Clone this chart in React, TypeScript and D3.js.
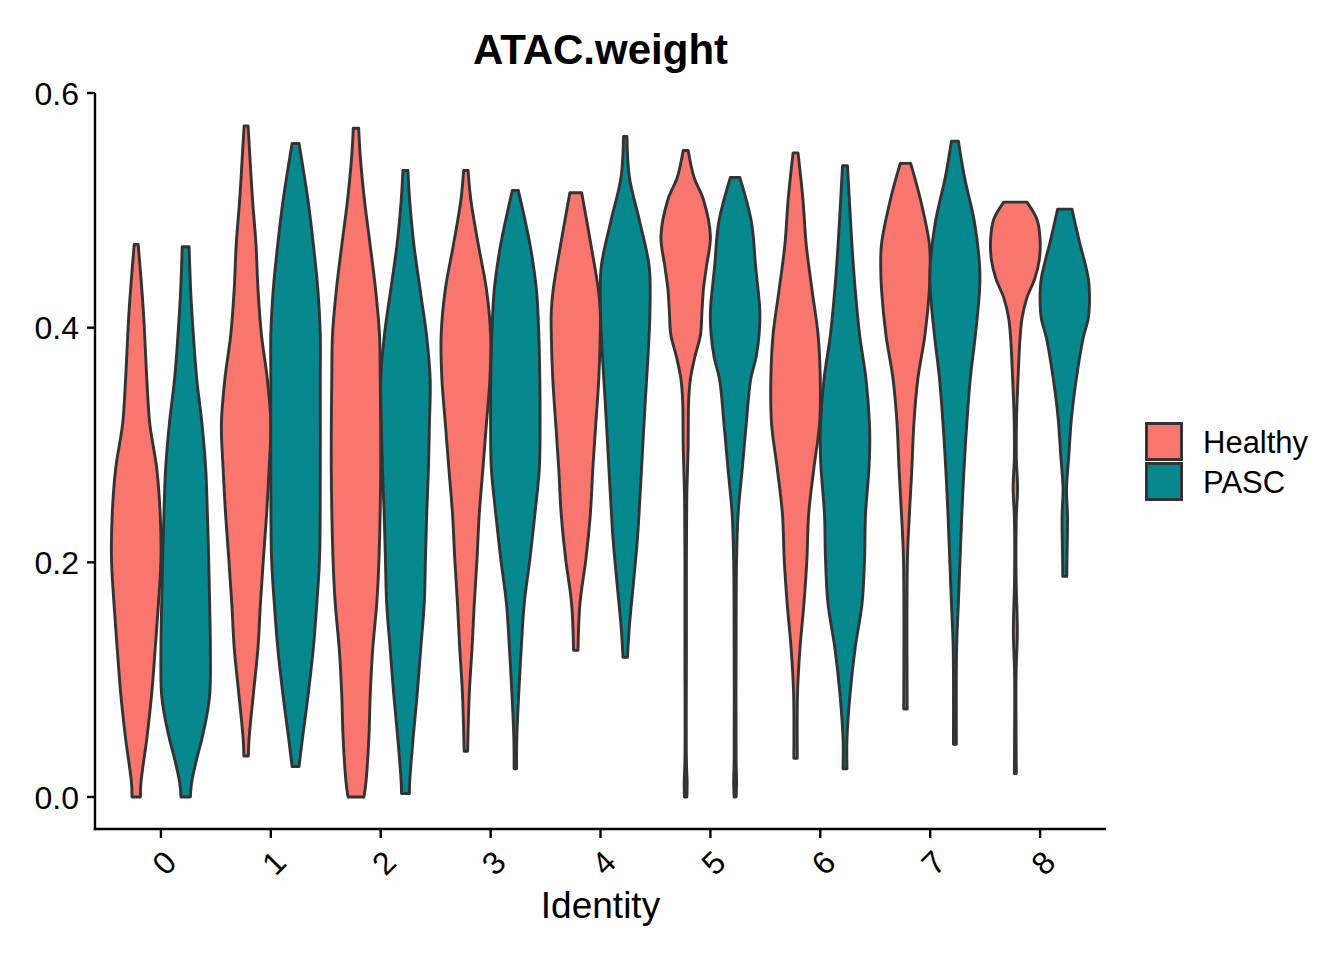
import React, { useEffect, useRef } from "react";
import * as d3 from "d3";

type Profile = [number, number][]; // [value, relative width]

const identities = ["0", "1", "2", "3", "4", "5", "6", "7", "8"];
const groups = ["Healthy", "PASC"];
const groupColors = ["#F8766D", "#07888F"];
const yTicks = [0.0, 0.2, 0.4, 0.6];

// density outlines, bottom to top
const healthyProfiles: Profile[] = [
    [[0.000, 0.17], [0.012, 0.19], [0.050, 0.43], [0.089, 0.63], [0.127, 0.77], [0.165, 0.90], [0.203, 1.00], [0.241, 0.97], [0.280, 0.83], [0.318, 0.55], [0.356, 0.43], [0.414, 0.29], [0.471, 0.08]],
    [[0.035, 0.09], [0.050, 0.12], [0.089, 0.30], [0.127, 0.48], [0.165, 0.58], [0.203, 0.70], [0.241, 0.83], [0.280, 0.93], [0.318, 1.00], [0.356, 0.86], [0.394, 0.62], [0.433, 0.48], [0.471, 0.40], [0.509, 0.26], [0.547, 0.15], [0.572, 0.08]],
    [[0.000, 0.32], [0.012, 0.40], [0.050, 0.52], [0.089, 0.58], [0.127, 0.68], [0.165, 0.84], [0.203, 0.93], [0.280, 1.00], [0.356, 0.98], [0.394, 0.95], [0.433, 0.79], [0.471, 0.57], [0.509, 0.34], [0.547, 0.17], [0.570, 0.11]],
    [[0.039, 0.07], [0.089, 0.14], [0.127, 0.25], [0.165, 0.34], [0.203, 0.45], [0.241, 0.54], [0.280, 0.69], [0.318, 0.83], [0.356, 0.97], [0.394, 1.00], [0.433, 0.83], [0.471, 0.50], [0.509, 0.20], [0.534, 0.09]],
    [[0.125, 0.09], [0.165, 0.17], [0.203, 0.41], [0.241, 0.59], [0.280, 0.69], [0.318, 0.81], [0.356, 0.93], [0.394, 0.99], [0.414, 0.99], [0.433, 0.91], [0.471, 0.61], [0.515, 0.24]],
    [[0.000, 0.05], [0.012, 0.06], [0.031, 0.03], [0.127, 0.03], [0.203, 0.03], [0.241, 0.04], [0.261, 0.05], [0.299, 0.10], [0.337, 0.12], [0.356, 0.19], [0.375, 0.37], [0.394, 0.60], [0.414, 0.66], [0.433, 0.72], [0.452, 0.84], [0.478, 1.00], [0.509, 0.72], [0.528, 0.34], [0.551, 0.10]],
    [[0.033, 0.07], [0.089, 0.08], [0.127, 0.18], [0.165, 0.34], [0.203, 0.46], [0.241, 0.53], [0.280, 0.74], [0.318, 0.97], [0.356, 1.00], [0.394, 0.91], [0.433, 0.66], [0.471, 0.43], [0.509, 0.30], [0.549, 0.10]],
    [[0.075, 0.07], [0.203, 0.08], [0.241, 0.16], [0.280, 0.26], [0.318, 0.34], [0.356, 0.50], [0.394, 0.79], [0.433, 0.97], [0.452, 1.00], [0.471, 0.97], [0.509, 0.61], [0.540, 0.21]],
    [[0.020, 0.04], [0.053, 0.03], [0.104, 0.03], [0.141, 0.08], [0.188, 0.03], [0.239, 0.04], [0.263, 0.09], [0.290, 0.04], [0.323, 0.05], [0.357, 0.11], [0.391, 0.19], [0.408, 0.27], [0.425, 0.46], [0.442, 0.79], [0.458, 0.97], [0.475, 1.00], [0.492, 0.88], [0.507, 0.47]],
];

const pascProfiles: Profile[] = [
    [[0.000, 0.19], [0.012, 0.24], [0.031, 0.43], [0.050, 0.66], [0.070, 0.86], [0.089, 0.98], [0.127, 1.00], [0.165, 0.97], [0.203, 0.93], [0.241, 0.88], [0.280, 0.81], [0.318, 0.66], [0.356, 0.45], [0.394, 0.31], [0.433, 0.20], [0.469, 0.14]],
    [[0.026, 0.14], [0.050, 0.28], [0.089, 0.52], [0.127, 0.72], [0.165, 0.86], [0.203, 0.97], [0.280, 1.00], [0.356, 1.00], [0.394, 1.00], [0.433, 0.90], [0.471, 0.72], [0.509, 0.50], [0.557, 0.14]],
    [[0.003, 0.16], [0.012, 0.17], [0.050, 0.31], [0.089, 0.48], [0.127, 0.62], [0.165, 0.76], [0.203, 0.81], [0.241, 0.86], [0.280, 0.93], [0.318, 0.97], [0.356, 1.00], [0.394, 0.85], [0.433, 0.59], [0.471, 0.34], [0.509, 0.17], [0.534, 0.10]],
    [[0.024, 0.05], [0.050, 0.06], [0.089, 0.14], [0.127, 0.24], [0.165, 0.36], [0.203, 0.59], [0.241, 0.79], [0.280, 0.97], [0.318, 1.00], [0.356, 0.99], [0.394, 0.95], [0.433, 0.85], [0.471, 0.59], [0.517, 0.12]],
    [[0.119, 0.09], [0.146, 0.17], [0.184, 0.34], [0.222, 0.50], [0.261, 0.61], [0.299, 0.71], [0.337, 0.81], [0.375, 0.92], [0.414, 1.00], [0.452, 0.97], [0.490, 0.59], [0.528, 0.17], [0.563, 0.07]],
    [[0.000, 0.04], [0.012, 0.06], [0.031, 0.04], [0.127, 0.04], [0.203, 0.06], [0.241, 0.12], [0.280, 0.29], [0.318, 0.45], [0.356, 0.63], [0.375, 0.85], [0.394, 0.97], [0.414, 1.00], [0.452, 0.83], [0.490, 0.66], [0.528, 0.19]],
    [[0.024, 0.08], [0.050, 0.08], [0.089, 0.21], [0.127, 0.41], [0.165, 0.69], [0.203, 0.79], [0.241, 0.83], [0.280, 0.97], [0.299, 1.00], [0.318, 0.99], [0.356, 0.85], [0.394, 0.59], [0.433, 0.41], [0.471, 0.28], [0.538, 0.10]],
    [[0.045, 0.06], [0.127, 0.07], [0.165, 0.14], [0.203, 0.21], [0.241, 0.28], [0.280, 0.37], [0.318, 0.48], [0.356, 0.62], [0.394, 0.83], [0.433, 1.00], [0.452, 1.00], [0.490, 0.79], [0.528, 0.39], [0.559, 0.14]],
    [[0.188, 0.08], [0.205, 0.09], [0.239, 0.11], [0.263, 0.07], [0.290, 0.16], [0.323, 0.27], [0.357, 0.47], [0.391, 0.74], [0.408, 0.95], [0.425, 1.00], [0.442, 0.95], [0.475, 0.57], [0.501, 0.29]],
];

const FONT = "'Liberation Sans', Arial, Helvetica, sans-serif";

const App: React.FC = () => {
    const svgRef = useRef<SVGSVGElement | null>(null);

    useEffect(() => {
        const width = 1344;
        const height = 960;
        const panel = { left: 95, right: 1106, top: 93, bottom: 829 };

        const svg = d3.select(svgRef.current);
        svg.selectAll("*").remove();
        svg.attr("width", width).attr("height", height);

        const unit = (panel.right - panel.left) / (identities.length - 1 + 1.2);

        const x = d3
            .scalePoint<string>()
            .domain(identities)
            .range([panel.left + 0.6 * unit, panel.right - 0.6 * unit]);

        const dodge = d3
            .scaleBand<string>()
            .domain(groups)
            .range([-0.45 * unit, 0.45 * unit]);

        const halfW = d3.scaleLinear().domain([0, 1]).range([0, dodge.bandwidth() / 2]);

        const y = d3.scaleLinear().domain([0, 0.6]).range([797, panel.top]);

        // violins
        const allProfiles = [healthyProfiles, pascProfiles];
        groups.forEach((g, gi) => {
            identities.forEach((id, i) => {
                const cx = x(id)! + dodge(g)! + dodge.bandwidth() / 2;
                const area = d3
                    .area<[number, number]>()
                    .y((d) => y(d[0]))
                    .x0((d) => cx - halfW(d[1]))
                    .x1((d) => cx + halfW(d[1]))
                    .curve(d3.curveCatmullRom.alpha(0.5));
                svg.append("path")
                    .attr("d", area(allProfiles[gi][i]))
                    .attr("fill", groupColors[gi])
                    .attr("stroke", "#333333")
                    .attr("stroke-width", 2.9)
                    .attr("stroke-linejoin", "round");
            });
        });

        // y axis
        const yAxis = svg.append("g");
        yAxis.append("line")
            .attr("x1", panel.left).attr("x2", panel.left)
            .attr("y1", panel.top).attr("y2", panel.bottom + 1.2)
            .attr("stroke", "black").attr("stroke-width", 2.4);
        yTicks.forEach((t) => {
            yAxis.append("line")
                .attr("x1", panel.left - 8).attr("x2", panel.left)
                .attr("y1", y(t)).attr("y2", y(t))
                .attr("stroke", "black").attr("stroke-width", 2.4);
            yAxis.append("text")
                .attr("x", panel.left - 16)
                .attr("y", y(t))
                .attr("dy", "0.36em")
                .attr("text-anchor", "end")
                .style("font-family", FONT)
                .style("font-size", "32px")
                .text(d3.format(".1f")(t));
        });

        // x axis
        const xAxis = svg.append("g");
        xAxis.append("line")
            .attr("x1", panel.left - 1.2).attr("x2", panel.right)
            .attr("y1", panel.bottom).attr("y2", panel.bottom)
            .attr("stroke", "black").attr("stroke-width", 2.4);
        identities.forEach((id) => {
            const tx = x(id)!;
            xAxis.append("line")
                .attr("x1", tx).attr("x2", tx)
                .attr("y1", panel.bottom).attr("y2", panel.bottom + 9)
                .attr("stroke", "black").attr("stroke-width", 2.4);
            xAxis.append("text")
                .attr("transform", `translate(${tx + 1},${panel.bottom + 19}) rotate(-45)`)
                .attr("text-anchor", "end")
                .attr("dy", "0.72em")
                .style("font-family", FONT)
                .style("font-size", "32px")
                .text(id);
        });

        // axis title
        svg.append("text")
            .attr("x", (panel.left + panel.right) / 2)
            .attr("y", 918)
            .attr("text-anchor", "middle")
            .style("font-family", FONT)
            .style("font-size", "37px")
            .text("Identity");

        // plot title
        svg.append("text")
            .attr("x", (panel.left + panel.right) / 2)
            .attr("y", 64)
            .attr("text-anchor", "middle")
            .style("font-family", FONT)
            .style("font-size", "42px")
            .style("font-weight", "bold")
            .text("ATAC.weight");

        // legend
        const legend = svg.append("g").attr("transform", "translate(1145, 422)");
        groups.forEach((g, gi) => {
            legend.append("rect")
                .attr("x", 1.5)
                .attr("y", gi * 40 + 1.5)
                .attr("width", 35)
                .attr("height", 36)
                .attr("fill", groupColors[gi])
                .attr("stroke", "#333333")
                .attr("stroke-width", 3);
            legend.append("text")
                .attr("x", 58)
                .attr("y", gi * 40 + 20)
                .attr("dy", "0.36em")
                .style("font-family", FONT)
                .style("font-size", "31px")
                .text(g);
        });
    }, []);

    return (
        <svg
            ref={svgRef}
            style={{ position: "absolute", left: 0, top: 0, background: "white" }}
        />
    );
};

export default App;
